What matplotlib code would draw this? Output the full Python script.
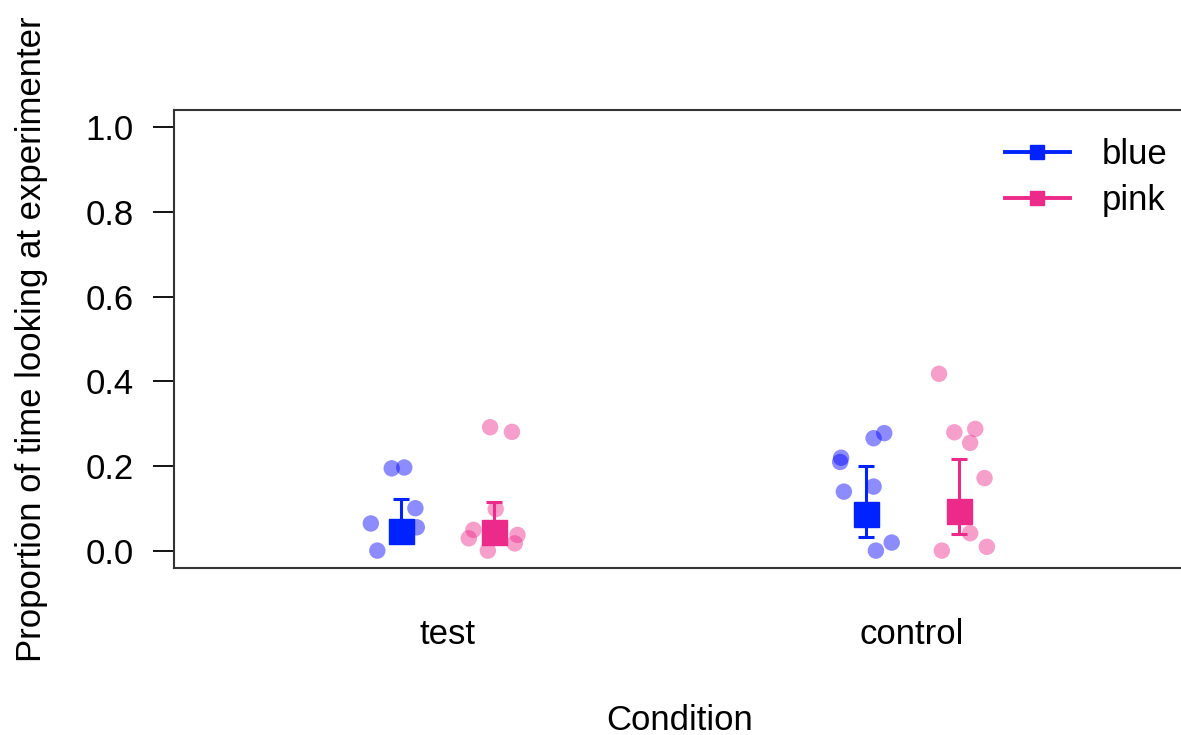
import matplotlib
matplotlib.use("Agg")
import matplotlib.pyplot as plt
from matplotlib.lines import Line2D
import numpy as np

plt.rcParams['font.family'] = ['Liberation Sans', 'DejaVu Sans']

conditions = ["test", "control"]
cond_pos = [1, 2]
group_offset = {"blue": -0.1, "pink": 0.1}

# individual points: x-jitter from condition centre, value
blue_test_jit = [-0.121, -0.094, -0.070, -0.067, -0.166, -0.152]
blue_test_val = [0.195, 0.197, 0.101, 0.056, 0.065, 0.001]
pink_test_jit = [0.091, 0.138, 0.103, 0.055, 0.045, 0.150, 0.144, 0.086]
pink_test_val = [0.292, 0.281, 0.099, 0.050, 0.030, 0.038, 0.018, 0.001]
blue_ctrl_jit = [-0.155, -0.153, -0.083, -0.060, -0.147, -0.083, -0.044, -0.078]
blue_ctrl_val = [0.210, 0.220, 0.266, 0.278, 0.140, 0.152, 0.020, 0.001]
pink_ctrl_jit = [0.058, 0.091, 0.136, 0.125, 0.156, 0.125, 0.161, 0.064]
pink_ctrl_val = [0.418, 0.280, 0.288, 0.255, 0.172, 0.042, 0.010, 0.001]

# summary: means with error bars (lower, upper)
blue_mean = [0.047, 0.087]
blue_lo = [0.030, 0.034]
blue_hi = [0.122, 0.201]
pink_mean = [0.046, 0.095]
pink_lo = [0.030, 0.039]
pink_hi = [0.116, 0.218]

blue_col = "#0022FF"
pink_col = "#EC2A8A"

W, H = 1181, 735
fig = plt.figure(figsize=(W / 100, H / 100), dpi=100)
ax = fig.add_axes([174 / W, 1 - 568 / H, (1186 - 174) / W, (568 - 110) / H])

ax.set_ylim(-0.04, 1.04)
ax.set_xlim(0.41, 2.59)

for jit, val, ci, col in [(blue_test_jit, blue_test_val, 0, "#0000FF"),
                          (pink_test_jit, pink_test_val, 0, pink_col),
                          (blue_ctrl_jit, blue_ctrl_val, 1, "#0000FF"),
                          (pink_ctrl_jit, pink_ctrl_val, 1, pink_col)]:
    xs = [cond_pos[ci] + j for j in jit]
    ax.scatter(xs, val, s=140, color=col, alpha=0.45, edgecolors='none', zorder=2)

for name, mean, lo, hi, col in [("blue", blue_mean, blue_lo, blue_hi, blue_col),
                                ("pink", pink_mean, pink_lo, pink_hi, pink_col)]:
    xs = [p + group_offset[name] for p in cond_pos]
    yerr = [np.array(mean) - np.array(lo), np.array(hi) - np.array(mean)]
    ax.errorbar(xs, mean, yerr=yerr, fmt='none', ecolor=col, elinewidth=2.2,
                capsize=6, capthick=2.2, zorder=3)
    ax.plot(xs, mean, linestyle='none', marker='s', markersize=18, color=col, zorder=4)

ax.set_yticks([0.0, 0.2, 0.4, 0.6, 0.8, 1.0])
ax.set_yticklabels(["0.0", "0.2", "0.4", "0.6", "0.8", "1.0"])
ax.set_xticks(cond_pos)
ax.set_xticklabels(conditions)
ax.tick_params(axis='y', labelsize=25, length=15, width=1.3, direction='out', pad=14)
ax.tick_params(axis='x', labelsize=25, length=0, pad=36)
for s in ax.spines.values():
    s.set_linewidth(1.5)
    s.set_color("#333333")

ax.set_ylabel("Proportion of time looking at experimenter", fontsize=25)
ax.yaxis.set_label_coords((48 - 174) / 1012, 0.5)
ax.set_xlabel("Condition", fontsize=25)
ax.xaxis.set_label_coords(0.5, (568 - 704) / 458)

handles = [Line2D([0], [0], color=blue_col, lw=2.8, marker='s', markersize=10),
           Line2D([0], [0], color=pink_col, lw=2.8, marker='s', markersize=10)]
ax.legend(handles, ["blue", "pink"], loc='upper left',
          bbox_to_anchor=((1005 - 14) / W, 1 - 124 / H), bbox_transform=fig.transFigure,
          borderaxespad=0, frameon=False, fontsize=25, handlelength=1.87,
          handletextpad=0.92, labelspacing=0.38)

fig.savefig("out.png", dpi=100)
